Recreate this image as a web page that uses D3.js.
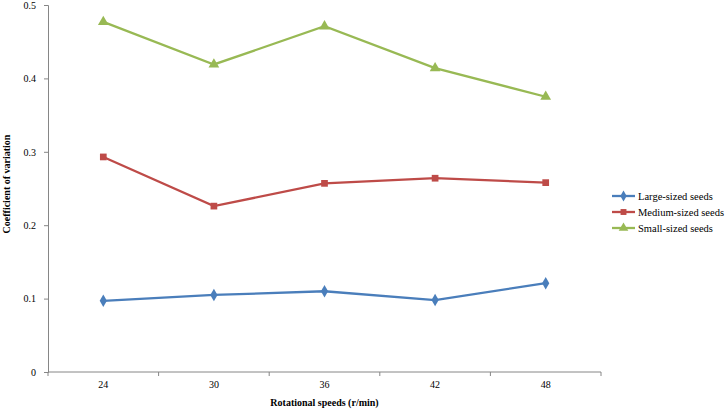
<!DOCTYPE html>
<html>
<head>
<meta charset="utf-8">
<script src="https://cdn.jsdelivr.net/npm/d3@7"></script>
<style>
  body { margin: 0; background: #fff; }
</style>
</head>
<body>
<svg id="chart" width="725" height="409"></svg>
<script>
var speeds = ["24", "30", "36", "42", "48"];
var largeSeeds = [0.097, 0.105, 0.110, 0.098, 0.121];
var mediumSeeds = [0.293, 0.226, 0.257, 0.264, 0.258];
var smallSeeds = [0.477, 0.419, 0.471, 0.414, 0.375];
var yTicks = [0, 0.1, 0.2, 0.3, 0.4, 0.5];
var seriesNames = ["Large-sized seeds", "Medium-sized seeds", "Small-sized seeds"];

var series = [
  { name: seriesNames[0], values: largeSeeds, color: "#4a7ebb", shape: d3.symbolDiamond },
  { name: seriesNames[1], values: mediumSeeds, color: "#be4b48", shape: d3.symbolSquare },
  { name: seriesNames[2], values: smallSeeds, color: "#98b954", shape: d3.symbolTriangle }
];

var serif = "'Liberation Serif', 'Times New Roman', Times, serif";
var svg = d3.select("#chart");
var plotLeft = 48, plotRight = 601, plotTop = 5, plotBottom = 372;

var x = d3.scaleBand().domain(speeds).range([plotLeft, plotRight]);
var y = d3.scaleLinear().domain([0, 0.5]).range([plotBottom, plotTop]);

// y axis
var yAxis = svg.append("g")
  .attr("transform", "translate(" + plotLeft + ",0)")
  .call(d3.axisLeft(y).tickValues(yTicks).tickSize(4).tickPadding(8)
    .tickFormat(function (d) { return d === 0 ? "0" : d3.format(".1f")(d); }));
yAxis.attr("font-family", serif).attr("font-size", 10);
yAxis.selectAll("path, line").attr("stroke", "#868686");
yAxis.selectAll("text").attr("fill", "#000");

// x axis
var xAxis = svg.append("g")
  .attr("transform", "translate(0," + plotBottom + ")")
  .call(d3.axisBottom(x).tickSize(0).tickPadding(9));
xAxis.attr("font-family", serif).attr("font-size", 10);
xAxis.select("path").attr("stroke", "#868686").attr("d", "M" + plotLeft + ",0H" + plotRight);
xAxis.selectAll("text").attr("fill", "#000");
// category boundary ticks
var bounds = speeds.map(function (d) { return x(d); }).concat([plotRight]);
xAxis.selectAll(".bound").data(bounds).enter().append("line")
  .attr("x1", function (d) { return d; }).attr("x2", function (d) { return d; })
  .attr("y1", 0).attr("y2", 4).attr("stroke", "#868686");

// titles
svg.append("text")
  .attr("x", (plotLeft + plotRight) / 2).attr("y", 406)
  .attr("text-anchor", "middle")
  .attr("font-family", serif).attr("font-size", 10).attr("font-weight", "bold")
  .text("Rotational speeds (r/min)");
svg.append("text")
  .attr("transform", "translate(10,184) rotate(-90)")
  .attr("text-anchor", "middle")
  .attr("font-family", serif).attr("font-size", 10).attr("font-weight", "bold")
  .text("Coefficient of variation");

var cx = function (i) { return x(speeds[i]) + x.bandwidth() / 2; };
var line = d3.line().x(function (d, i) { return cx(i); }).y(function (d) { return y(d); });

series.forEach(function (s) {
  svg.append("path").datum(s.values)
    .attr("d", line).attr("fill", "none")
    .attr("stroke", s.color).attr("stroke-width", 2.3);
  svg.selectAll(null).data(s.values).enter().append("path")
    .attr("d", d3.symbol().type(s.shape).size(s.shape === d3.symbolTriangle ? 50 : 45))
    .attr("transform", function (d, i) { return "translate(" + cx(i) + "," + y(d) + ")"; })
    .attr("fill", s.color);
});

// legend
var legend = svg.append("g").attr("transform", "translate(612,196)");
series.forEach(function (s, i) {
  var g = legend.append("g").attr("transform", "translate(0," + (i * 16) + ")");
  g.append("line").attr("x1", 0).attr("x2", 23).attr("y1", 0).attr("y2", 0)
    .attr("stroke", s.color).attr("stroke-width", 2.3);
  g.append("path")
    .attr("d", d3.symbol().type(s.shape).size(s.shape === d3.symbolTriangle ? 40 : 35))
    .attr("transform", "translate(11.5,0)").attr("fill", s.color);
  g.append("text").attr("x", 26).attr("y", 3.5)
    .attr("font-family", serif).attr("font-size", 10.5).text(s.name);
});
</script>
</body>
</html>
